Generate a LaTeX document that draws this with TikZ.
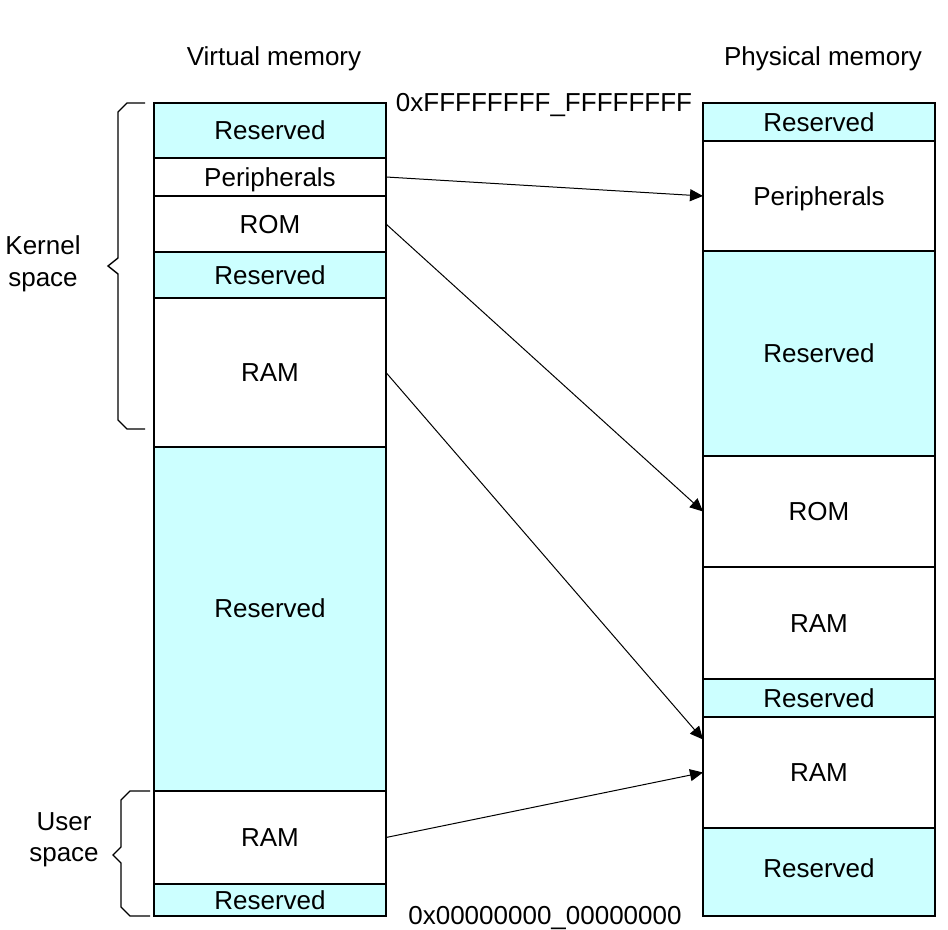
\documentclass[tikz,border=0pt]{standalone}
\usepackage{fontspec}
\setmainfont{Liberation Sans}
\usetikzlibrary{arrows.meta,positioning}
\definecolor{resvcyan}{HTML}{CCFFFF}
\tikzset{
  region/.style={draw=black, line width=0.9pt, fill=white, minimum width=116pt, inner sep=0pt, outer sep=0pt, text height=9.3pt, text depth=0pt, font=\fontsize{13}{15}\selectfont},
  resv/.style={region, fill=resvcyan},
  map/.style={-{Triangle[length=6.5pt,width=6pt]}, line width=0.5pt, black},
  spacebrace/.style={draw=black, line width=0.7pt},
  caption/.style={font=\fontsize{13}{15}\selectfont, inner sep=0pt, align=center}
}

\begin{document}
\begin{tikzpicture}[x=0.5pt, y=-0.5pt]
  \useasboundingbox (0,0) rectangle (948,930);
  % virtual memory column
  \node[caption, anchor=base] (vtitle) at (274,66) {Virtual memory};
  \node[resv, minimum height=27.5pt, anchor=north] (vres1) at (270,103) {Reserved};
  \node[region, minimum height=19pt, below=0pt of vres1] (vperi) {Peripherals};
  \node[region, minimum height=28pt, below=0pt of vperi] (vrom) {ROM};
  \node[resv, minimum height=23pt, below=0pt of vrom] (vres2) {Reserved};
  \node[region, minimum height=74.5pt, below=0pt of vres2] (vram) {RAM};
  \node[resv, minimum height=172pt, text depth=11pt, below=0pt of vram] (vres3) {Reserved};
  \node[region, minimum height=46.5pt, below=0pt of vres3] (vuram) {RAM};
  \node[resv, minimum height=16pt, below=0pt of vuram] (vres4) {Reserved};
  % physical memory column
  \node[caption, anchor=base] (ptitle) at (823,66) {Physical memory};
  \node[resv, minimum height=19pt, anchor=north] (pres1) at (819,103) {Reserved};
  \node[region, minimum height=55pt, below=0pt of pres1] (pperi) {Peripherals};
  \node[resv, minimum height=102.5pt, below=0pt of pperi] (pres2) {Reserved};
  \node[region, minimum height=55.5pt, below=0pt of pres2] (prom) {ROM};
  \node[region, minimum height=56pt, below=0pt of prom] (pram1) {RAM};
  \node[resv, minimum height=19pt, below=0pt of pram1] (pres3) {Reserved};
  \node[region, minimum height=55.5pt, below=0pt of pres3] (pram2) {RAM};
  \node[resv, minimum height=44pt, text depth=4pt, below=0pt of pram2] (pres4) {Reserved};
  % addresses
  \node[caption, anchor=base] (toptext) at (544,112) {0xFFFFFFFF\_FFFFFFFF};
  \node[caption, anchor=base] (bottext) at (545,924) {0x00000000\_00000000};
  % braces
  \draw[spacebrace] (145,103) -- (127,103) -- (118,112) -- (118,258) -- (108,266)
    -- (118,274) -- (118,420) -- (127,429) -- (145,429);
  \draw[spacebrace] (150,791) -- (130,791) -- (121,800) -- (121,847) -- (113,855)
    -- (121,863) -- (121,907) -- (130,916) -- (150,916);
  \node[caption, font=\fontsize{13}{16}\selectfont] (kernel) at (43,264) {Kernel\\space};
  \node[caption, font=\fontsize{13}{15.5}\selectfont] (user) at (64,840) {User\\space};
  % mappings
  \draw[map] (vperi.east) -- (pperi.west);
  \draw[map] (vrom.east) -- (prom.west);
  \draw[map] (vram.east) -- ([yshift=16.5pt]pram2.west);
  \draw[map] (vuram.east) -- (pram2.west);
\end{tikzpicture}
\end{document}
